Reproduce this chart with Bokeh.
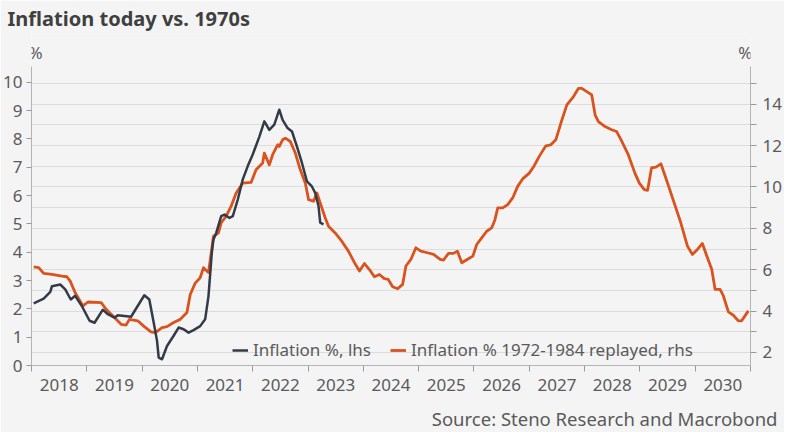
from bokeh.plotting import figure
from bokeh.models import (Range1d, LinearAxis, FixedTicker, Grid, Label, Legend, LegendItem, Title)
from bokeh.embed import file_html
from bokeh.resources import INLINE

# ---- data (decimal years) ----
cpi_dates = [2018.04, 2018.22, 2018.34, 2018.37, 2018.52, 2018.61, 2018.71, 2018.79, 2018.91,
             2019.05, 2019.14, 2019.29, 2019.38, 2019.50, 2019.56, 2019.68, 2019.80, 2019.92,
             2020.04, 2020.13, 2020.21, 2020.27, 2020.30, 2020.36, 2020.45, 2020.57, 2020.66,
             2020.75, 2020.84, 2020.93, 2021.05, 2021.14, 2021.20, 2021.26, 2021.29, 2021.34,
             2021.43, 2021.49, 2021.58, 2021.64, 2021.73, 2021.82, 2021.91, 2022.00, 2022.12,
             2022.21, 2022.30, 2022.39, 2022.48, 2022.54, 2022.63, 2022.71, 2022.80, 2022.89,
             2022.98, 2023.07, 2023.13, 2023.19, 2023.22, 2023.28]
cpi_values = [2.19, 2.36, 2.60, 2.80, 2.86, 2.69, 2.33, 2.46, 2.10,
              1.58, 1.51, 1.97, 1.81, 1.69, 1.77, 1.75, 1.72, 2.10,
              2.48, 2.33, 1.51, 0.87, 0.28, 0.22, 0.69, 1.05, 1.34,
              1.28, 1.16, 1.25, 1.39, 1.63, 2.45, 3.98, 4.45, 4.68,
              5.27, 5.33, 5.21, 5.27, 5.86, 6.57, 7.04, 7.45, 8.08,
              8.62, 8.32, 8.50, 9.03, 8.67, 8.38, 8.26, 7.73, 7.15,
              6.50, 6.32, 6.09, 5.62, 5.04, 4.98]

replay_dates = [2018.04, 2018.13, 2018.22, 2018.37, 2018.55, 2018.64, 2018.70, 2018.79, 2018.93,
                2019.02, 2019.26, 2019.35, 2019.50, 2019.62, 2019.71, 2019.77, 2019.92, 2020.04,
                2020.16, 2020.24, 2020.36, 2020.45, 2020.57, 2020.69, 2020.81, 2020.87, 2020.96,
                2021.05, 2021.11, 2021.20, 2021.29, 2021.38, 2021.43, 2021.52, 2021.61, 2021.70,
                2021.82, 2021.97, 2022.06, 2022.18, 2022.21, 2022.30, 2022.36, 2022.45, 2022.48,
                2022.54, 2022.59, 2022.68, 2022.77, 2022.86, 2022.95, 2023.01, 2023.10, 2023.16,
                2023.22, 2023.31, 2023.37, 2023.49, 2023.61, 2023.73, 2023.84, 2023.93, 2024.02,
                2024.11, 2024.20, 2024.29, 2024.38, 2024.45, 2024.53, 2024.62, 2024.71, 2024.77,
                2024.86, 2024.95, 2025.04, 2025.16, 2025.27, 2025.39, 2025.45, 2025.54, 2025.63,
                2025.70, 2025.78, 2025.90, 2025.98, 2026.05, 2026.14, 2026.23, 2026.32, 2026.38,
                2026.43, 2026.52, 2026.61, 2026.70, 2026.79, 2026.88, 2027.00, 2027.09, 2027.18,
                2027.30, 2027.39, 2027.48, 2027.59, 2027.68, 2027.80, 2027.89, 2027.95, 2028.04,
                2028.13, 2028.19, 2028.25, 2028.37, 2028.49, 2028.58, 2028.66, 2028.79, 2028.91,
                2028.99, 2029.08, 2029.14, 2029.21, 2029.29, 2029.38, 2029.50, 2029.62, 2029.74,
                2029.86, 2029.95, 2030.04, 2030.13, 2030.21, 2030.30, 2030.36, 2030.45, 2030.51,
                2030.60, 2030.69, 2030.78, 2030.84, 2030.90, 2030.96]
replay_values = [6.14, 6.10, 5.82, 5.77, 5.69, 5.66, 5.45, 4.89, 4.25,
                 4.44, 4.41, 4.09, 3.69, 3.36, 3.32, 3.60, 3.53, 3.25,
                 3.00, 2.96, 3.20, 3.25, 3.45, 3.60, 3.93, 4.80, 5.35,
                 5.61, 6.10, 5.86, 7.62, 7.78, 8.27, 8.59, 9.07, 9.71,
                 10.19, 10.22, 10.83, 11.16, 11.64, 11.07, 11.56, 12.04, 11.96,
                 12.28, 12.36, 12.20, 11.64, 10.83, 10.19, 9.39, 9.31, 9.71,
                 9.23, 8.51, 8.10, 7.78, 7.38, 6.90, 6.34, 5.94, 6.30,
                 6.01, 5.66, 5.77, 5.57, 5.53, 5.18, 5.08, 5.29, 6.18,
                 6.50, 7.06, 6.90, 6.82, 6.74, 6.50, 6.47, 6.79, 6.79,
                 6.90, 6.34, 6.53, 6.66, 7.22, 7.54, 7.86, 8.02, 8.42,
                 8.99, 8.99, 9.15, 9.47, 10.03, 10.39, 10.67, 11.03, 11.48,
                 11.99, 12.04, 12.28, 13.24, 13.97, 14.37, 14.77, 14.77, 14.61,
                 14.45, 13.49, 13.16, 12.92, 12.77, 12.68, 12.28, 11.56, 10.67,
                 10.19, 9.87, 9.84, 10.92, 10.96, 11.12, 10.19, 9.23, 8.27,
                 7.14, 6.74, 6.98, 7.27, 6.66, 6.01, 5.05, 5.05, 4.73,
                 3.96, 3.80, 3.53, 3.53, 3.77, 4.01]

year_labels = ["2018", "2019", "2020", "2021", "2022", "2023", "2024",
               "2025", "2026", "2027", "2028", "2029", "2030"]
year_bounds = [2018, 2019, 2020, 2021, 2022, 2023, 2024, 2025, 2026, 2027, 2028, 2029, 2030, 2031]
left_ticks = [0, 1, 2, 3, 4, 5, 6, 7, 8, 9, 10]
right_ticks = [2, 3, 4, 5, 6, 7, 8, 9, 10, 11, 12, 13, 14, 15]

FONT = "Noto Sans"
TXT = "#5a5a5a"
AX = "#b5b5b5"
DARK = "#333b48"
ORANGE = "#d9531e"
BG = "#f4f4f4"

p = figure(width=784, height=432, output_backend="svg", toolbar_location=None,
           x_range=Range1d(2018, 2031), y_range=Range1d(0, 11.72),
           min_border_left=28, min_border_right=28, min_border_top=32, min_border_bottom=67)
p.extra_y_ranges = {"right": Range1d(1.37, 17.42)}
p.border_fill_color = BG
p.background_fill_color = BG
p.outline_line_color = None
p.xgrid.visible = False
p.ygrid.visible = False

p.title.text = "Inflation today vs. 1970s"
p.title.align = "left"
p.title.offset = -24
p.title.standoff = 4
p.title.text_font = FONT
p.title.text_font_size = "20px"
p.title.text_font_style = "bold"
p.title.text_color = "#3f3f3f"

grid = Grid(dimension=1, ticker=FixedTicker(ticks=right_ticks), y_range_name="right",
            grid_line_color="#dcdcdc", grid_line_width=1.2)
p.add_layout(grid)

# x axis: labels centered in each year, ticks at year boundaries
xa = p.xaxis[0]
xa.ticker = FixedTicker(ticks=[y + 0.5 for y in year_bounds[:-1]], minor_ticks=year_bounds)
xa.major_label_overrides = {y + 0.5: lab for y, lab in zip(year_bounds[:-1], year_labels)}
xa.major_tick_out = 0
xa.major_tick_in = 0
xa.minor_tick_out = 6
xa.minor_tick_in = 0
xa.minor_tick_line_color = "#9a9a9a"
xa.axis_line_color = AX
xa.major_label_text_font = FONT
xa.major_label_text_font_size = "17px"
xa.major_label_text_color = TXT
xa.major_label_standoff = 7
# blank axis label used only as vertical spacing above the source line
xa.axis_label = " "
xa.axis_label_standoff = 0
xa.axis_label_text_font_size = "7px"

ya = p.yaxis[0]
ya.ticker = FixedTicker(ticks=left_ticks)
ya.bounds = (0, 10.56)
ya.major_tick_out = 5
ya.major_tick_in = 0
ya.minor_tick_out = 0
ya.minor_tick_in = 0
ya.major_tick_line_color = "#9a9a9a"
ya.axis_line_color = AX
ya.major_label_text_font = FONT
ya.major_label_text_font_size = "17px"
ya.major_label_text_color = TXT
ya.major_label_standoff = 4

ra = LinearAxis(y_range_name="right", ticker=FixedTicker(ticks=right_ticks))
ra.bounds = (1.37, 15.83)
ra.major_label_overrides = {t: (str(t) if t % 2 == 0 else "") for t in right_ticks}
ra.major_tick_out = 6
ra.major_tick_in = 0
ra.minor_tick_out = 0
ra.minor_tick_in = 0
ra.major_tick_line_color = "#9a9a9a"
ra.axis_line_color = AX
ra.major_label_text_font = FONT
ra.major_label_text_font_size = "17px"
ra.major_label_text_color = TXT
ra.major_label_standoff = 6
p.add_layout(ra, "right")

r_orange = p.line(replay_dates, replay_values, y_range_name="right",
                  line_color=ORANGE, line_width=2.8, line_join="round")
r_dark = p.line(cpi_dates, cpi_values, line_color=DARK, line_width=2.5, line_join="round")

legend = Legend(items=[LegendItem(label="Inflation %, lhs", renderers=[r_dark]),
                       LegendItem(label="Inflation % 1972-1984 replayed, rhs", renderers=[r_orange])],
                orientation="horizontal", location=(201, 4), border_line_color=None,
                background_fill_alpha=0, label_text_font=FONT, label_text_font_size="17px",
                label_text_color=TXT, glyph_width=16, label_standoff=5, spacing=19,
                padding=0, margin=0)
p.add_layout(legend)

p.add_layout(Label(x=2018.0, y=11.05, x_offset=-3, text="%", text_font=FONT, text_font_size="17px",
                   text_color=TXT, text_baseline="middle", text_align="left"))
p.add_layout(Label(x=2031.0, y=11.05, x_offset=2, text="%", text_font=FONT, text_font_size="17px",
                   text_color=TXT, text_baseline="middle", text_align="right"))

src = Title(text="Source: Steno Research and Macrobond", align="right", offset=-27, standoff=0,
            vertical_align="bottom",
            text_font=FONT, text_font_size="18.5px", text_font_style="normal", text_color=TXT)
p.add_layout(src, "below")

open("out.html", "w").write(file_html(p, INLINE))
